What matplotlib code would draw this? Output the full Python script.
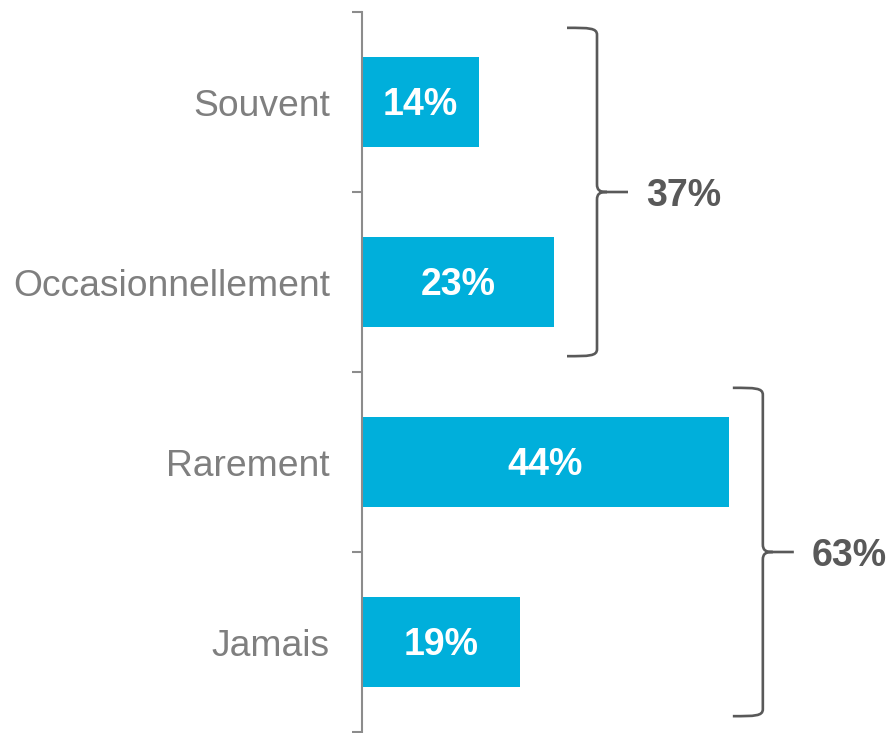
import matplotlib
matplotlib.use("Agg")
import matplotlib.pyplot as plt
from matplotlib.path import Path
from matplotlib.patches import PathPatch

categories = ["Souvent", "Occasionnellement", "Rarement", "Jamais"]
values = [14, 23, 44, 19]
groups = [(0, 1), (2, 3)]

BAR_COLOR = "#00AFDB"
LABEL_GREY = "#7F7F7F"
AXIS_GREY = "#8C8C8C"
BRACE_COLOR = "#595959"
FONT = ["Liberation Sans", "DejaVu Sans"]

W, H = 892, 733
fig = plt.figure(figsize=(W / 100, H / 100), dpi=100)
ax_left, ax_right = 362, 862
ax_top, ax_bot = 12, 732
ax = fig.add_axes([ax_left / W, (H - ax_bot) / H, (ax_right - ax_left) / W, (ax_bot - ax_top) / H])
xmax = 60
ax.set_xlim(0, xmax)
ax.set_ylim(len(categories) - 0.5, -0.5)

pxx = (ax_right - ax_left) / xmax   # px per x unit
pxy = (ax_bot - ax_top) / len(categories)  # px per y unit
dx = lambda p: p / pxx
dy = lambda p: p / pxy

ypos = list(range(len(categories)))
ax.barh(ypos, values, height=0.5, color=BAR_COLOR, edgecolor="none", zorder=2)
for y, v in zip(ypos, values):
    ax.text(v / 2, y + dy(3), f"{v}%", ha="center", va="center", color="white",
            fontsize=27, fontweight="bold", family=FONT)

# axis styling
for s in ["top", "right", "bottom"]:
    ax.spines[s].set_visible(False)
ax.spines["left"].set_color(AXIS_GREY)
ax.spines["left"].set_linewidth(1.5)
ax.set_xticks([])
ax.set_yticks(ypos)
ax.set_yticklabels(categories, family=FONT, fontsize=26.8, color=LABEL_GREY)
ax.tick_params(axis="y", which="major", length=0, pad=23)
ax.set_yticks([i - 0.5 for i in range(len(categories) + 1)], minor=True)
ax.tick_params(axis="y", which="minor", length=7, width=1.5, color=AXIS_GREY)

# braces
brace_left = [24.6, 44.5]  # arm start (x data)
for (g0, g1), xl in zip(groups, brace_left):
    total = sum(values[g0:g1 + 1])
    inset = 0.088
    yt, yb = g0 - 0.5 + inset, g1 + 0.5 - inset
    ym = (yt + yb) / 2
    xv = xl + dx(30)
    xt = xv + dx(31)
    r = dy(7)
    verts = [
        (xl, yt), (xv - dx(8), yt), (xv, yt), (xv, yt + r),
        (xv, ym - dy(8)),
        (xv, ym - dy(1.5)), (xv + dx(3), ym), (xv + dx(10), ym),
        (xt, ym),
        (xv + dx(10), ym),
        (xv + dx(3), ym), (xv, ym + dy(1.5)), (xv, ym + dy(8)),
        (xv, yb - r),
        (xv, yb), (xv - dx(8), yb), (xl, yb),
    ]
    codes = [Path.MOVETO, Path.CURVE4, Path.CURVE4, Path.CURVE4,
             Path.LINETO,
             Path.CURVE4, Path.CURVE4, Path.CURVE4,
             Path.LINETO,
             Path.MOVETO,
             Path.CURVE4, Path.CURVE4, Path.CURVE4,
             Path.LINETO,
             Path.CURVE4, Path.CURVE4, Path.CURVE4]
    ax.add_patch(PathPatch(Path(verts, codes), facecolor="none", edgecolor=BRACE_COLOR,
                           lw=1.9, clip_on=False, capstyle="butt"))
    ax.text(xt + dx(18), ym + dy(4), f"{total}%", ha="left", va="center", color=BRACE_COLOR,
            fontsize=27, fontweight="bold", family=FONT, clip_on=False)

fig.savefig("out.png", dpi=100)
